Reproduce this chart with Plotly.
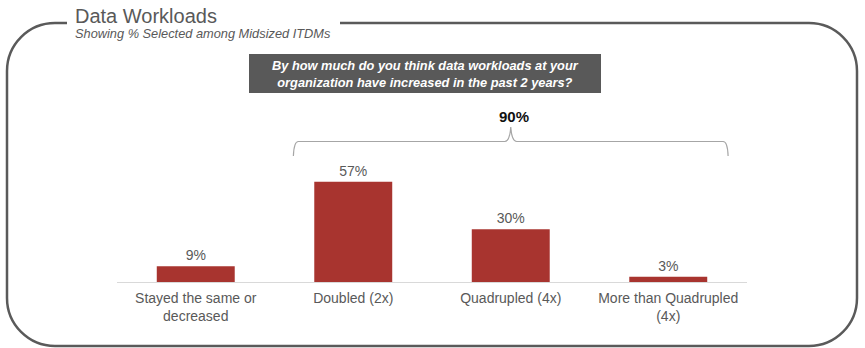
import plotly.graph_objects as go

# ---- data ----
categories = ["Stayed the same or<br>decreased", "Doubled (2x)", "Quadrupled (4x)", "More than Quadrupled<br>(4x)"]
values = [9, 57, 30, 3]
title = "Data Workloads"
subtitle = "Showing % Selected among Midsized ITDMs"
question = "By how much do you think data workloads at your<br>organization have increased in the past 2 years?"
grouped = [1, 2, 3]  # categories covered by the brace

# ---- geometry ----
W, H = 865, 348
L, R, T, B = 117, 118, 100, 66
pw, ph = W - L - R, H - T - B
ymax = 103.4
n = len(categories)


def px(x):
    return (x - L) / pw


def py(y):
    return (H - B - y) / ph


def cx(i):  # pixel centre of category i
    return L + (i + 0.5) * pw / n


def pt(x, y):
    return f"{px(x):.5f},{py(y):.5f}"


text_col = "#595959"
bar_col = "#A8342F"
font = "Liberation Sans, Arial, Helvetica, sans-serif"

fig = go.Figure()
fig.add_trace(go.Bar(
    x=list(range(n)), y=values, width=0.495,
    marker=dict(color=bar_col, line=dict(width=0)),
    text=[f"{v}%" for v in values], textposition="outside",
    textfont=dict(color=text_col, size=14, family=font),
    cliponaxis=False, hoverinfo="skip",
))

# rounded border with gap for title
r, k = 48, 0.5523
x0, x1, y0, y1 = 7, 857, 23, 346
border = (
    f"M {pt(67, y0)} L {pt(x0 + r, y0)} "
    f"C {pt(x0 + r - k * r, y0)} {pt(x0, y0 + r - k * r)} {pt(x0, y0 + r)} "
    f"L {pt(x0, y1 - r)} "
    f"C {pt(x0, y1 - r + k * r)} {pt(x0 + r - k * r, y1)} {pt(x0 + r, y1)} "
    f"L {pt(x1 - r, y1)} "
    f"C {pt(x1 - r + k * r, y1)} {pt(x1, y1 - r + k * r)} {pt(x1, y1 - r)} "
    f"L {pt(x1, y0 + r)} "
    f"C {pt(x1, y0 + r - k * r)} {pt(x1 - r + k * r, y0)} {pt(x1 - r, y0)} "
    f"L {pt(340, y0)}"
)
shapes = [dict(type="path", xref="paper", yref="paper", path=border,
               line=dict(color="#5a5a5a", width=2.5))]

# question box
shapes.append(dict(type="rect", xref="paper", yref="paper",
                   x0=px(249), x1=px(601), y0=py(93), y1=py(54),
                   fillcolor="#595959", line=dict(width=0)))

# brace
bl = cx(grouped[0]) - 0.38 * pw / n
br = cx(grouped[-1]) + 0.38 * pw / n
bc = cx(grouped[1])
by, bt, bb = 141.5, 127, 156
brace = (
    f"M {pt(bl, bb)} Q {pt(bl + 0.5, by)} {pt(bl + 5, by)} "
    f"L {pt(bc - 6, by)} Q {pt(bc - 1, by)} {pt(bc, bt)} "
    f"Q {pt(bc + 1, by)} {pt(bc + 6, by)} "
    f"L {pt(br - 5, by)} Q {pt(br - 0.5, by)} {pt(br, bb)}"
)
shapes.append(dict(type="path", xref="paper", yref="paper", path=brace,
                   line=dict(color="#a6a6a6", width=1.2)))

annotations = [
    dict(text=title, x=px(73), y=py(16), xref="paper", yref="paper",
         xanchor="left", yanchor="middle", showarrow=False,
         font=dict(size=20, color=text_col, family=font)),
    dict(text=f"<i>{subtitle}</i>", x=px(73), y=py(34), xref="paper", yref="paper",
         xanchor="left", yanchor="middle", showarrow=False,
         font=dict(size=12.8, color=text_col, family=font)),
    dict(text=f"<b><i>{question}</i></b>", x=px(425), y=py(74), xref="paper", yref="paper",
         xanchor="center", yanchor="middle", showarrow=False,
         font=dict(size=12.8, color="white", family=font)),
    dict(text=f"<b>{sum(values[i] for i in grouped)}%</b>", x=px(bc + 3), y=py(116),
         xref="paper", yref="paper", xanchor="center", yanchor="middle", showarrow=False,
         font=dict(size=15, color="#111111", family=font)),
]

fig.update_layout(
    width=W, height=H,
    margin=dict(l=L, r=R, t=T, b=B),
    paper_bgcolor="white", plot_bgcolor="white",
    showlegend=False,
    shapes=shapes, annotations=annotations,
    xaxis=dict(range=[-0.5, n - 0.5], tickvals=list(range(n)), ticktext=categories,
               showgrid=False, zeroline=False, showline=True, linecolor="#d9d9d9",
               linewidth=1, ticks="", ticklabelstandoff=3,
               tickfont=dict(size=14, color=text_col, family=font),
               fixedrange=True),
    yaxis=dict(range=[0, ymax], visible=False, fixedrange=True),
)

fig.write_html("out.html", config={"displayModeBar": False})
